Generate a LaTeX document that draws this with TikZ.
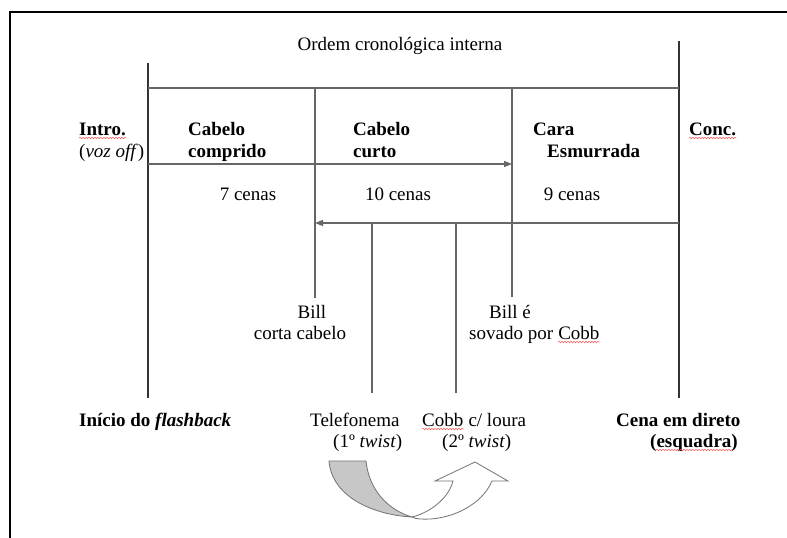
\documentclass[tikz,border=0pt]{standalone}
\usepackage{fontspec}
\setmainfont{Liberation Serif}
\usetikzlibrary{arrows.meta,calc,decorations.pathmorphing}
\begin{document}
\begin{tikzpicture}[x=1pt,y=-1pt,
  txt/.style={inner sep=0pt,font=\fontsize{19}{22}\selectfont},
  bold/.style={inner sep=0pt,font=\fontsize{19}{22}\selectfont\bfseries},
  frameline/.style={line width=2pt,draw=black},
  mainline/.style={line width=1.8pt,draw=black!80},
  gridline/.style={line width=1.2pt,draw=black!60},
  tip/.style={-{Triangle[length=8pt,width=6pt]}},
  spell/.style={draw=red!65,line width=0.5pt,decorate,decoration={snake,amplitude=0.7pt,segment length=3pt}}]
\useasboundingbox (0,0) rectangle (787,538);
\fill[white] (0,0) rectangle (787,538);
% frame
\coordinate (FtopR) at (790,12);
\coordinate (Fcorner) at (10,12);
\coordinate (FbotL) at (10,540);
\draw[frameline] (FtopR) -- (Fcorner) -- (FbotL);
% coordinates of the timeline
\coordinate (Ltop) at (148,63);
\coordinate (Lbot) at (148,398);
\coordinate (Rtop) at (679,41);
\coordinate (Rbot) at (679,398);
\coordinate (TL) at (148,88);
\coordinate (TR) at (679,88);
\coordinate (ML) at (148,164);
\coordinate (MR) at (512,164);
\coordinate (BR) at (679,223);
\coordinate (BL) at (315,223);
\coordinate (V1t) at (315,88);
\coordinate (V1b) at (315,298);
\coordinate (V2t) at (512,88);
\coordinate (V2b) at (512,297);
\coordinate (V3t) at (372,223);
\coordinate (V3b) at (372,393);
\coordinate (V4t) at (456,223);
\coordinate (V4b) at (456,393);
\draw[mainline] (Ltop) -- (Lbot);
\draw[mainline] (Rtop) -- (Rbot);
\draw[gridline] (TL) -- (TR);
\draw[gridline,tip] (ML) -- (MR);
\draw[gridline,tip] (BR) -- (BL);
\draw[gridline] (V1t) -- (V1b);
\draw[gridline] (V2t) -- (V2b);
\draw[gridline] (V3t) -- (V3b);
\draw[gridline] (V4t) -- (V4b);
% texts
\node[txt,anchor=base] (title) at (400,50) {Ordem cronológica interna};
\node[bold,anchor=base west] (intro) at (79,135) {Intro.};
\node[txt,anchor=base west] (voz) at (79,157) {(\textit{voz off})};
\node[bold,anchor=base west] (cabA) at (188,135) {Cabelo};
\node[bold,anchor=base west] (comp) at (188,157) {comprido};
\node[bold,anchor=base west] (cabB) at (353,135) {Cabelo};
\node[bold,anchor=base west] (curto) at (353,157) {curto};
\node[bold,anchor=base west] (cara) at (533,135) {Cara};
\node[bold,anchor=base west] (esm) at (547,157) {Esmurrada};
\node[bold,anchor=base west] (conc) at (689,135) {Conc.};
\node[txt,anchor=base] (c7) at (248,200) {7 cenas};
\node[txt,anchor=base] (c10) at (398,200) {10 cenas};
\node[txt,anchor=base] (c9) at (572,200) {9 cenas};
\node[txt,anchor=base] (billA) at (312,318) {Bill};
\node[txt,anchor=base] (corta) at (300,339) {corta cabelo};
\node[txt,anchor=base] (billB) at (510,318) {Bill é};
\node[txt,anchor=base west] (sovado) at (469,339) {sovado por};
\node[txt,anchor=base west,xshift=4.75pt] (cobbA) at (sovado.base east) {Cobb};
\node[bold,anchor=base west] (inicio) at (79,426) {Início do \textit{flashback}};
\node[txt,anchor=base west] (tel) at (310,426) {Telefonema};
\node[txt,anchor=base west] (tw1) at (333,447) {(1º \textit{twist})};
\node[txt,anchor=base west] (cobbB) at (422,426) {Cobb};
\node[txt,anchor=base west,xshift=4.75pt] (loura) at (cobbB.base east) {c/ loura};
\node[txt,anchor=base west] (tw2) at (442,447) {(2º \textit{twist})};
\node[bold,anchor=base west] (cena) at (616,426) {Cena em direto};
\node[bold,anchor=base east] (esq) at (738,447) {(esquadra)};
% spell-check wavy underlines
\draw[spell] ($(intro.base west)+(0,3)$) -- ($(intro.base east)+(0,3)$);
\draw[spell] ($(conc.base west)+(0,3)$) -- ($(conc.base east)+(0,3)$);
\draw[spell] ($(cobbA.base west)+(0,3)$) -- ($(cobbA.base east)+(0,3)$);
\draw[spell] ($(cobbB.base west)+(0,3)$) -- ($(cobbB.base east)+(0,3)$);
\draw[spell] ($(esq.base west)+(6,3)$) -- ($(esq.base east)+(-6,3)$);
% curved U-turn arrow
\filldraw[fill=black!22,draw=black!55,line width=0.8pt]
  (329,461) -- (366,461) .. controls (369,490) and (388,510) .. (412,517)
  .. controls (375,515) and (332,498) .. (329,461) -- cycle;
\filldraw[fill=white,draw=black!55,line width=0.8pt]
  (412,517) .. controls (432,512) and (449,497) .. (453,481)
  -- (435,481) -- (475,462) -- (508,481) -- (492,481)
  .. controls (482,505) and (450,521) .. (420,519)
  .. controls (417,519) and (414,518) .. (412,517) -- cycle;
\end{tikzpicture}
\end{document}
